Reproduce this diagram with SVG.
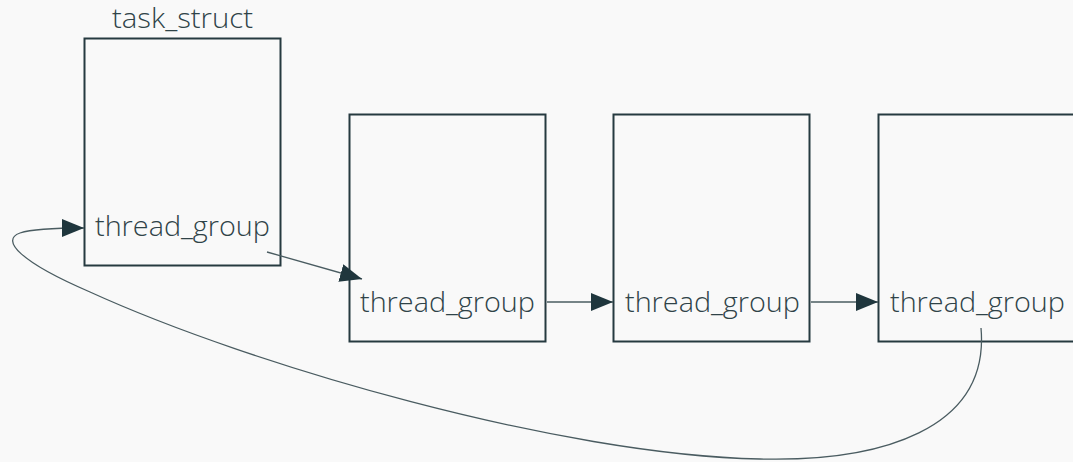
<svg xmlns="http://www.w3.org/2000/svg" width="1073" height="462" viewBox="0 0 1073 462">
  <style>
    .box { fill: none; stroke: #263a40; stroke-width: 2; }
    .lbl { font-family: "Open Sans", "Noto Sans", sans-serif; font-weight: 300; font-size: 27px; fill: #2f4348; }
    .edge { fill: none; stroke: #4a5c61; stroke-width: 1.3; }
  </style>
  <defs>
    <marker id="arrow" markerUnits="userSpaceOnUse" markerWidth="24" markerHeight="20" refX="22" refY="9" orient="auto">
      <path d="M0,0 L22,9 L0,18 Z" fill="#1f363d"/>
    </marker>
  </defs>
  <rect width="1073" height="462" fill="#f9f9f9"/>

  <g id="task_struct">
    <text class="lbl" x="112" y="28" textLength="141" lengthAdjust="spacingAndGlyphs">task_struct</text>
    <rect class="box" x="84.5" y="38.5" width="196" height="227"/>
    <text class="lbl" x="95" y="236" textLength="175" lengthAdjust="spacingAndGlyphs">thread_group</text>
  </g>
  <g id="thread1">
    <rect class="box" x="349.5" y="114.5" width="196" height="227"/>
    <text class="lbl" x="360" y="312" textLength="175" lengthAdjust="spacingAndGlyphs">thread_group</text>
  </g>
  <g id="thread2">
    <rect class="box" x="613.5" y="114.5" width="196" height="227"/>
    <text class="lbl" x="625" y="312" textLength="175" lengthAdjust="spacingAndGlyphs">thread_group</text>
  </g>
  <g id="thread3">
    <rect class="box" x="878.5" y="114.5" width="200" height="227"/>
    <text class="lbl" x="890" y="312" textLength="175" lengthAdjust="spacingAndGlyphs">thread_group</text>
  </g>

  <g id="connectors">
    <path class="edge" d="M267,252 L362,279" marker-end="url(#arrow)"/>
    <path class="edge" d="M547,302 L613,302" marker-end="url(#arrow)"/>
    <path class="edge" d="M811,302 L878,302" marker-end="url(#arrow)"/>
    <path class="edge" d="M981,328 C990,430 880,462 760,459 C560,455 250,365 90,292 C20,262 0,240 20,233 C32,229 50,228 84,228" marker-end="url(#arrow)"/>
  </g>
</svg>
